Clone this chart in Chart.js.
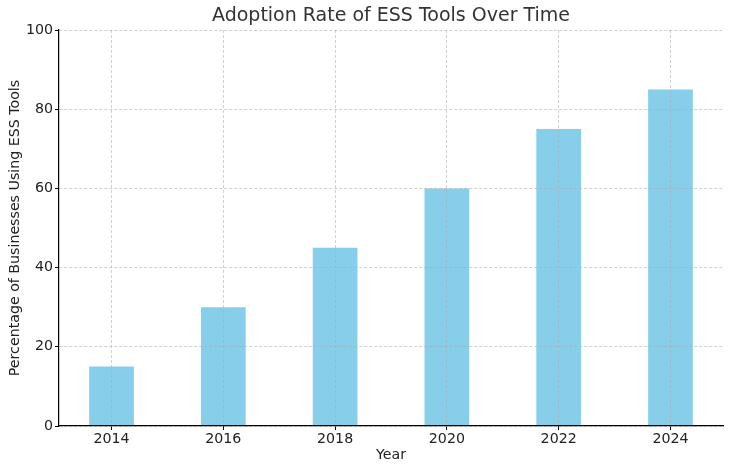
<!DOCTYPE html>
<html>
<head>
<meta charset="utf-8">
<script src="https://cdn.jsdelivr.net/npm/chart.js@4/dist/chart.umd.min.js"></script>
<style>
html,body{margin:0;padding:0;background:#fff;}
#wrap{width:732px;height:472px;}
</style>
</head>
<body>
<div id="wrap"><canvas id="c" width="732" height="472"></canvas></div>
<script>
const years = [2014, 2016, 2018, 2020, 2022, 2024];
const adoption = [15, 30, 45, 60, 75, 85];
const xTicks = [2014, 2016, 2018, 2020, 2022, 2024];
const yTicks = [0, 20, 40, 60, 80, 100];
const titleText = 'Adoption Rate of ESS Tools Over Time';
const xLabel = 'Year';
const yLabel = 'Percentage of Businesses Using ESS Tools';

const FONT = "'DejaVu Sans', sans-serif";

const titlePlugin = {
  id: 'centeredTitle',
  afterDraw(chart) {
    const ctx = chart.ctx;
    const a = chart.chartArea;
    ctx.save();
    ctx.font = '19px ' + FONT;
    ctx.fillStyle = '#333333';
    ctx.textAlign = 'center';
    ctx.textBaseline = 'middle';
    ctx.fillText(titleText, (a.left + a.right) / 2, 16.5);
    ctx.restore();
  }
};

new Chart(document.getElementById('c'), {
  type: 'bar',
  data: {
    datasets: [{
      data: years.map((y, i) => ({x: y, y: adoption[i]})),
      backgroundColor: '#87CEEB',
      borderWidth: 0,
      barPercentage: 0.4,
      categoryPercentage: 1.0
    }]
  },
  options: {
    responsive: false,
    animation: false,
    devicePixelRatio: 1,
    layout: {padding: {left: 0, right: 9, top: 30, bottom: 0}},
    plugins: {legend: {display: false}, title: {display: false}, tooltip: {enabled: false}},
    scales: {
      x: {
        type: 'linear',
        min: 2013.06,
        max: 2024.94,
        offset: false,
        afterFit(s) { s.height = 46; },
        afterBuildTicks(s) { s.ticks = xTicks.map(v => ({value: v})); },
        grid: {
          offset: false,
          color: 'rgba(170,170,170,0.55)',
          lineWidth: 1,
          z: 1,
          drawTicks: true,
          tickLength: 4,
          tickColor: '#000',
          tickBorderDash: [],
          tickWidth: 1
        },
        border: {display: true, color: '#000', width: 1.2, dash: [3, 2], z: 2},
        ticks: {
          color: '#222',
          font: {family: FONT, size: 14.2},
          padding: 1,
          maxRotation: 0,
          callback: v => String(v)
        },
        title: {
          display: true,
          text: xLabel,
          color: '#222',
          font: {family: FONT, size: 14.2},
          padding: {top: 0, bottom: 8}
        }
      },
      y: {
        min: 0,
        max: 100,
        afterFit(s) { s.width = 59; },
        afterBuildTicks(s) { s.ticks = yTicks.map(v => ({value: v})); },
        grid: {
          color: 'rgba(170,170,170,0.55)',
          lineWidth: 1,
          z: 1,
          drawTicks: true,
          tickLength: 4,
          tickColor: '#000',
          tickBorderDash: [],
          tickWidth: 1
        },
        border: {display: true, color: '#000', width: 1.2, dash: [3, 2], z: 2},
        ticks: {
          color: '#222',
          font: {family: FONT, size: 14.2},
          padding: 2
        },
        title: {
          display: true,
          text: yLabel,
          color: '#222',
          font: {family: FONT, size: 14.2},
          padding: {top: 6.5, bottom: 0}
        }
      }
    }
  },
  plugins: [titlePlugin]
});
</script>
</body>
</html>
